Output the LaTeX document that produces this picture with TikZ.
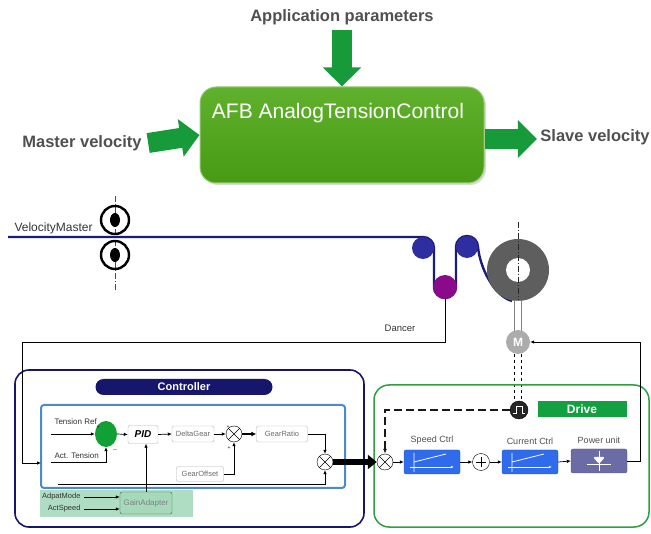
\documentclass[tikz,border=0pt]{standalone}
\usepackage{fontspec}
\setmainfont{Liberation Sans}
\usetikzlibrary{arrows.meta, positioning, shapes.geometric, shadows}

\definecolor{flowgreen}{HTML}{169A3A}
\definecolor{afbgreen}{HTML}{4EA815}
\definecolor{webblue}{HTML}{1B1B78}
\definecolor{rollblue}{HTML}{2E2EA0}
\definecolor{dancerpurple}{HTML}{8A0A8A}
\definecolor{spoolgray}{HTML}{5E5E5E}
\definecolor{ctrlnavy}{HTML}{16166C}
\definecolor{innerblue}{HTML}{4A8CCB}
\definecolor{adaptgreen}{HTML}{A6D9BC}
\definecolor{drivegreen}{HTML}{2E9E3E}
\definecolor{labelgreen}{HTML}{13A040}
\definecolor{sumgreen}{HTML}{10A035}
\definecolor{blockblue}{HTML}{2F6BEA}
\definecolor{powerpurple}{HTML}{6B6BA6}
\definecolor{labelgray}{HTML}{505050}

\tikzset{
  bigarrow/.style={draw=flowgreen, line width=20pt, -{Triangle[length=19pt,width=37pt]}},
  bigtext/.style={font=\bfseries\fontsize{16.5}{18}\selectfont, text=labelgray},
  sig/.style={-{Latex[length=4pt,width=3.5pt]}, line width=0.7pt},
  smalltext/.style={font=\fontsize{8}{9}\selectfont, text=black!80},
  block/.style={draw=gray!60, rounded corners=2pt, fill=white, minimum height=16pt,
    font=\fontsize{7.5}{8}\selectfont, text=gray!85!black},
  mult/.style={circle, draw, fill=white, minimum size=16pt, inner sep=0pt,
    path picture={\draw (path picture bounding box.north west) -- (path picture bounding box.south east)
      (path picture bounding box.south west) -- (path picture bounding box.north east);}},
  adder/.style={circle, draw, fill=white, minimum size=17pt, inner sep=0pt,
    path picture={\draw ([xshift=-5pt]path picture bounding box.center) -- ([xshift=5pt]path picture bounding box.center)
      ([yshift=-5pt]path picture bounding box.center) -- ([yshift=5pt]path picture bounding box.center);}},
  ctrlblock/.style={fill=blockblue, draw=blockblue!80!black, rounded corners=2pt,
    minimum width=56pt, minimum height=24pt},
  blocklabel/.style={font=\fontsize{9}{10}\selectfont, text=labelgray},
  centerline/.style={gray!60!black, line width=0.6pt, dash pattern=on 6pt off 2pt on 1pt off 2pt},
  rampicon/.style={path picture={\begin{scope}[shift={(path picture bounding box.center)}]
      \draw[white, line width=0.8pt] (-18,10) -- (-18,-9) (-18,0) -- (14,-8);
      \draw[white, line width=0.8pt, -{Latex[length=3pt]}] (-22,5) -- (22,5);
    \end{scope}}},
  diodeicon/.style={path picture={\begin{scope}[shift={(path picture bounding box.center)}]
      \draw[white, line width=0.8pt] (0,-10) -- (0,10) (-12,3) -- (12,3);
      \fill[white] (-6,-4) -- (6,-4) -- (0,3) -- cycle;
    \end{scope}}},
  pulseicon/.style={path picture={\begin{scope}[shift={(path picture bounding box.center)}]
      \draw[white, line width=0.8pt] (-6,3) -- (-3,3) -- (-3,-4) -- (3,-4) -- (3,3) -- (6,3);
    \end{scope}}},
}

\begin{document}
\begin{tikzpicture}[x=1pt, y=-1pt]
	\useasboundingbox (0,0) rectangle (651,534);

	% Function block with its inputs and output
	\node[bigtext] (appl) at (342,17) {Application parameters};
	\node[bigtext] (master) at (82,143) {Master velocity};
	\node[bigtext] (slave) at (595,137) {Slave velocity};
	\node[draw=afbgreen!60!white, line width=1pt, rounded corners=16pt,
		top color=afbgreen!90!white, bottom color=afbgreen!92!black,
		minimum width=284pt, minimum height=96pt,
		drop shadow={shadow xshift=2pt, shadow yshift=-2pt, opacity=0.3}] (afb) at (342,135) {};
	\node[text=white, font=\fontsize{21}{23}\selectfont] (afbname) at (338,113) {AFB AnalogTensionControl};
	\draw[bigarrow] ([yshift=-2pt]appl.south) -- (afb.north);
	\draw[bigarrow] ([xshift=3pt]master.east) -- (afb.west);
	\draw[bigarrow] ([yshift=-4pt]afb.east) -- ([yshift=-4pt]afb.east -| slave.west);

	% Nip rollers
	\draw[centerline] (115,196) -- (115,292);
	\node[circle, draw, line width=2.4pt, minimum size=28pt, inner sep=0pt] (niptop) at (115,220) {};
	\node[circle, draw, line width=2.4pt, minimum size=28pt, inner sep=0pt] (nipbot) at (115,255) {};
	\fill (niptop.center) ellipse [x radius=5, y radius=7];
	\fill (nipbot.center) ellipse [x radius=5, y radius=7];
	\node[anchor=base west, font=\fontsize{12}{13}\selectfont, text=black!80] (velmaster) at (11,232) {VelocityMaster};

	% Web through the dancer onto the spool
	\draw[webblue, line width=2.4pt] (8,237) -- (423,237) arc[start angle=-90, end angle=0, radius=11]
		-- (434,287) arc[start angle=180, end angle=0, radius=11]
		-- (456,247) arc[start angle=180, end angle=360, radius=11]
		.. controls (480,268) and (494,296) .. (512,301);
	\node[circle, fill=rollblue, minimum size=22pt, inner sep=0pt] (rollA) at (423,248) {};
	\node[circle, fill=rollblue, minimum size=22pt, inner sep=0pt] (rollB) at (467,247) {};
	\node[circle, fill=dancerpurple, minimum size=24pt, inner sep=0pt] (dancer) at (445,287) {};
	\node[smalltext, font=\fontsize{9.5}{10}\selectfont] (dancerlbl) at (400,328) {Dancer};

	% Spool, motor and encoder
	\node[circle, fill=spoolgray, minimum size=62pt, inner sep=0pt] (spool) at (518,270) {};
	\node[circle, fill=white, minimum size=24pt, inner sep=0pt] (hole) at (spool) {};
	\draw[centerline, gray!30!black] (518,222) -- (518,303);
	\draw[gray, fill=white, line width=0.6pt] (514.5,300) rectangle (521.5,331);
	\node[circle, fill=gray!65, minimum size=24pt, inner sep=0pt, text=white,
		font=\bfseries\fontsize{12}{13}\selectfont] (motor) at (518,342) {M};
	\node[circle, fill=gray!30!black, draw=black, minimum size=18pt, inner sep=0pt, pulseicon] (enc) at (519,410) {};
	\draw[dashed, line width=0.6pt] ([xshift=-3.5pt]motor.south) -- ([xshift=-4.5pt]enc.north)
		([xshift=3.5pt]motor.south) -- ([xshift=2.5pt]enc.north);

	% Controller
	\draw[ctrlnavy, line width=1.6pt, rounded corners=14pt] (15,370) rectangle (364,527);
	\node[fill=ctrlnavy, rounded corners=8pt, minimum width=177pt, minimum height=16pt, text=white,
		font=\bfseries\fontsize{11}{12}\selectfont] (ctrltitle) at (184,387) {Controller};
	\node[draw=innerblue, line width=2pt, rounded corners=3pt, fill=white,
		minimum width=304pt, minimum height=83pt] (inner) at (193,446.5) {};
	\fill[adaptgreen, opacity=0.9] (40,490) rectangle (193,517);

	\node[smalltext, anchor=base west] (tref) at (51,425) {Tension Ref};
	\node[smalltext, anchor=base west] (tact) at (51,459) {Act. Tension};
	\node[ellipse, fill=sumgreen, minimum width=22pt, minimum height=26pt, inner sep=0pt] (tsum) at (106,434) {};
	\node[font=\fontsize{5}{5}\selectfont] at (98,427) {+};
	\node[font=\fontsize{6}{6}\selectfont] at (115,450) {$-$};
	\node[block, minimum width=30pt, minimum height=18pt, text=black,
		font=\bfseries\itshape\fontsize{10}{11}\selectfont] (pid) at (143,434.5) {PID};
	\node[block, minimum width=42pt] (dgear) at (193,434) {DeltaGear};
	\node[mult] (cross1) at (234,434) {};
	\node[font=\fontsize{5}{5}\selectfont] at (228,427) {+};
	\node[font=\fontsize{5}{5}\selectfont] at (229,448) {+};
	\node[block, minimum width=51pt] (gratio) at (282,434) {GearRatio};
	\node[block, minimum width=47pt, minimum height=15pt] (goffset) at (200,474) {GearOffset};
	\node[mult] (cross2) at (325,462) {};
	\node[block, draw=gray!50!green!60!black, fill=adaptgreen, minimum width=52pt, minimum height=22pt,
		font=\fontsize{8}{9}\selectfont, text=gray] (gain) at (146,503) {GainAdapter};
	\node[smalltext, font=\fontsize{7.5}{8}\selectfont, anchor=east] (amode) at (84,497) {AdpatMode};
	\node[smalltext, font=\fontsize{7.5}{8}\selectfont, anchor=east] (aspeed) at (84,509) {ActSpeed};

	\coordinate (refin) at (51,434);
	\coordinate (actin) at (51,462);
	\coordinate (speedin) at (58,484);
	\draw[sig] (refin) -- (tsum.west);
	\draw[sig] (actin) -| (tsum.south);
	\draw[sig] (tsum.east) -- (pid.west);
	\draw[sig] (pid.east) -- (dgear.west);
	\draw[sig] (dgear.east) -- (cross1.west);
	\draw[sig] (goffset.east) -| (cross1.south);
	\draw[line width=2pt, -{Latex[length=5pt,width=5pt]}] (cross1.east) -- (gratio.west);
	\draw[sig] (gratio.east) -| (cross2.north);
	\draw[sig] (speedin) -| (cross2.south);
	\draw[sig] (gain.north) -- (gain.north |- pid.south);
	\draw[sig] (amode.east) -- (amode.east -| gain.west);
	\draw[sig] (aspeed.east) -- (aspeed.east -| gain.west);

	% Drive
	\draw[drivegreen, line width=1.5pt, rounded corners=15pt] (374,385) rectangle (649,527);
	\node[fill=labelgreen, minimum width=89pt, minimum height=16pt, text=white,
		font=\bfseries\fontsize{12}{13}\selectfont] (drivetitle) at (582,409) {Drive};
	\node[mult] (dsum) at (385,462) {};
	\node[ctrlblock, rampicon] (speed) at (432,462) {};
	\node[adder] (plus) at (481,462) {};
	\node[ctrlblock, rampicon] (current) at (530,462) {};
	\node[ctrlblock, fill=powerpurple, draw=powerpurple!80!black, diodeicon] (power) at (599,461) {};
	\node[blocklabel, above=2pt of speed] {Speed Ctrl};
	\node[blocklabel, above=2pt of current] {Current Ctrl};
	\node[blocklabel, above=2pt of power] {Power unit};
	\draw[sig] (dsum.east) -- (speed.west);
	\draw[sig] (speed.east) -- (plus.west);
	\draw[sig] (plus.east) -- (current.west);
	\draw[sig] (current.east) -- (power.west);

	% Feedback and command paths
	\coordinate (tensionin) at (41,463);
	\coordinate (dancerdrop) at (445,342);
	\coordinate (fbcorner) at (640,342);
	\draw[sig] (dancer.south) -- (dancerdrop) -| (22,463) -- (tensionin);
	\draw[line width=6pt, -{Triangle[length=9pt,width=14pt]}] (cross2.east) -- (dsum.west);
	\draw[gray!20!black, line width=2pt, dash pattern=on 8pt off 4pt, -{Latex[length=5pt,width=4pt]}] (enc.west) -| (dsum.north);
	\draw[sig] (power.east) -| (fbcorner) -- (motor.east);
\end{tikzpicture}
\end{document}
